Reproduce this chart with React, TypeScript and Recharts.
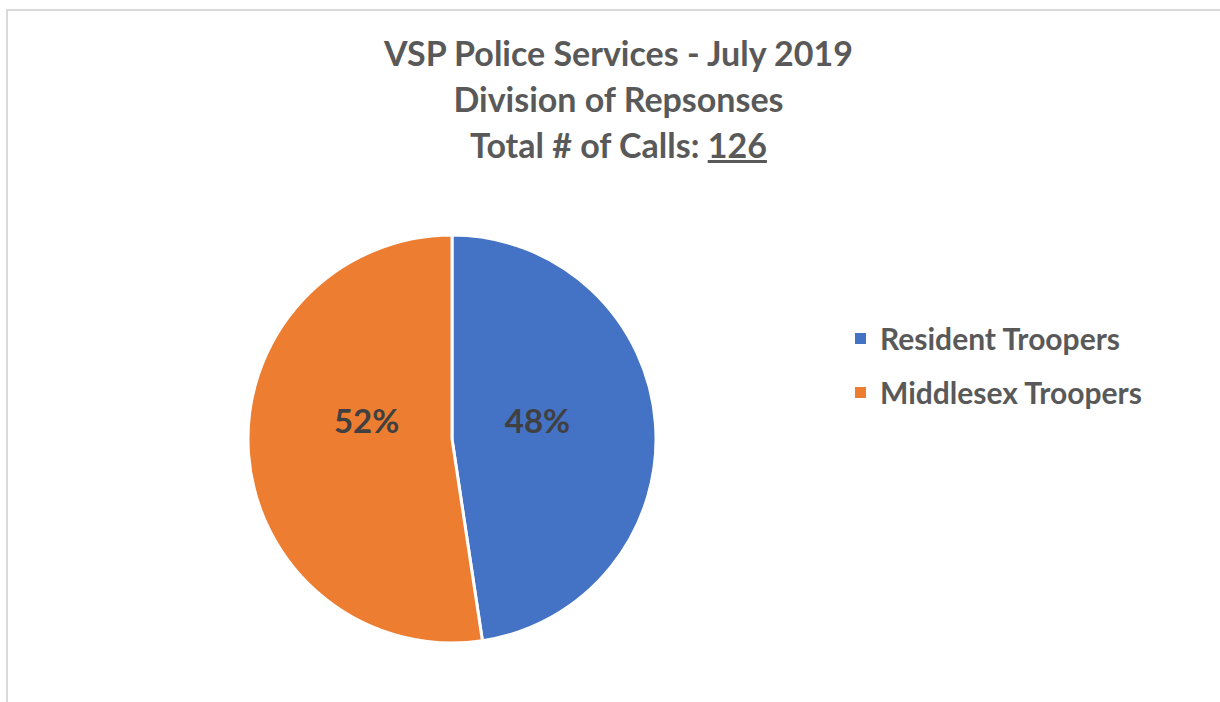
import { PieChart, Pie, Cell, Legend } from "recharts";

const categories = ["Resident Troopers", "Middlesex Troopers"];
const calls = [60, 66];
const percentLabels = ["48%", "52%"];
const COLORS = ["#4472C4", "#ED7D31"];

const data = categories.map((name, i) => ({ name, value: calls[i], label: percentLabels[i] }));

const FONT = "Lato, 'Open Sans', sans-serif";
const RAD = Math.PI / 180;

function SliceLabel(props: any) {
  const { cx, cy, midAngle, outerRadius, index } = props;
  // Excel keeps both labels on roughly the same line just above center
  const r = outerRadius * 0.42;
  const x = cx + r * Math.cos(-midAngle * RAD);
  const y = cy - 19;
  return (
    <text x={x} y={y} textAnchor="middle" dominantBaseline="central" fill="#404040"
      style={{ fontFamily: FONT, fontWeight: 700, fontSize: 33 }}>
      {percentLabels[index]}
    </text>
  );
}

function LegendList({ payload }: any) {
  // keep data order rather than the legend's default sorting
  const items = [...(payload || [])].sort(
    (a: any, b: any) => categories.indexOf(a.value) - categories.indexOf(b.value)
  );
  return (
    <div>
      {items.map((p: any, i: number) => (
        <div key={i} style={{ display: "flex", alignItems: "center", height: 54 }}>
          <span style={{ width: 11, height: 11, background: p.color, marginRight: 14 }} />
          <span style={{ fontFamily: FONT, fontWeight: 700, fontSize: 30, color: "#595959" }}>{p.value}</span>
        </div>
      ))}
    </div>
  );
}

export default function App() {
  return (
    <div style={{ position: "absolute", left: 0, top: 0, width: 1220, height: 702, background: "#fff", overflow: "hidden" }}>
      <div style={{ position: "absolute", left: 6, top: 9, right: 0, bottom: 0, borderTop: "2px solid #d9d9d9", borderLeft: "2px solid #d9d9d9" }} />
      <div style={{ position: "absolute", left: 0, top: 30, width: 1237, textAlign: "center", fontFamily: FONT, fontWeight: 700, fontSize: 34, lineHeight: "46px", color: "#595959" }}>
        <div>VSP Police Services - July 2019</div>
        <div>Division of Repsonses</div>
        <div>Total # of Calls: <span style={{ textDecoration: "underline" }}>126</span></div>
      </div>
      <PieChart width={1220} height={702} margin={{ top: 0, right: 0, bottom: 0, left: 0 }} style={{ position: "absolute", left: 0, top: 0 }}>
        <Pie
          data={data}
          dataKey="value"
          nameKey="name"
          cx={452}
          cy={439}
          outerRadius={204}
          startAngle={90}
          endAngle={-270}
          stroke="#fff"
          strokeWidth={3}
          label={SliceLabel}
          labelLine={false}
          isAnimationActive={false}
        >
          {data.map((_, i) => (
            <Cell key={i} fill={COLORS[i]} />
          ))}
        </Pie>
        <Legend
          layout="vertical"
          content={<LegendList />}
          wrapperStyle={{ left: 855, top: 311, width: 360 }}
        />
      </PieChart>
    </div>
  );
}
